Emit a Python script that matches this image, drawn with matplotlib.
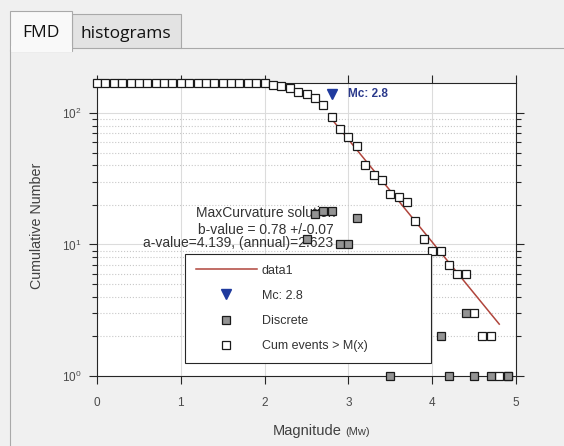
import matplotlib
matplotlib.use("Agg")
import matplotlib.pyplot as plt
from matplotlib.patches import Rectangle
from matplotlib.lines import Line2D
from matplotlib.ticker import LogLocator, NullFormatter

plt.rcParams['font.family'] = ['Liberation Sans', 'DejaVu Sans']

# cumulative number of events with magnitude >= M
cum_mag = [0.0, 0.1, 0.2, 0.3, 0.4, 0.5, 0.6, 0.7, 0.8, 0.9,
           1.0, 1.1, 1.2, 1.3, 1.4, 1.5, 1.6, 1.7, 1.8, 1.9,
           2.0, 2.1, 2.2, 2.3, 2.4, 2.5, 2.6, 2.7, 2.8, 2.9,
           3.0, 3.1, 3.2, 3.3, 3.4, 3.5, 3.6, 3.7, 3.8, 3.9,
           4.0, 4.1, 4.2, 4.3, 4.4, 4.5, 4.6, 4.7, 4.8, 4.9]
cum_num = [169, 169, 169, 169, 169, 169, 169, 169, 169, 169,
           169, 169, 169, 169, 169, 169, 169, 169, 169, 169,
           169, 163, 160, 154, 145, 139, 130, 114, 93, 75,
           66, 56, 40, 34, 31, 24, 23, 21, 15, 11,
           9, 9, 7, 6, 6, 3, 2, 2, 1, 1]

# events per magnitude bin (non zero bins only)
disc_mag = [2.0, 2.1, 2.2, 2.3, 2.4, 2.5, 2.6, 2.7, 2.8, 2.9, 3.0, 3.1, 3.2,
            3.3, 3.4, 3.5, 3.6, 3.7, 3.8, 3.9, 4.1, 4.2, 4.4, 4.5, 4.7, 4.9]
disc_num = [6, 3, 6, 7, 6, 11, 17, 18, 18, 10, 10, 16, 6,
            3, 7, 1, 2, 6, 4, 2, 2, 1, 3, 1, 1, 1]

# Gutenberg-Richter fit line (data1)
fit_mag = [2.8, 4.8]
fit_num = [90, 2.48]

mc = 2.8
mc_num = 139
b_value = 0.78
b_err = 0.07
a_value = 4.139
a_annual = 2.623

W, H = 564, 446
fig = plt.figure(figsize=(W / 100, H / 100), dpi=100, facecolor='#f0f0f0')


def box(x, y, w, h, **kw):
    # pixel box (top-left origin) to figure fraction
    r = Rectangle((x / W, 1 - (y + h) / H), w / W, h / H,
                  transform=fig.transFigure, **kw)
    fig.add_artist(r)


# tab header
box(72, 14, 109, 34, facecolor='#e3e3e3', edgecolor='#a9a9a9', lw=0.8)
box(10, 11, 62, 40, facecolor='#f9f9f9', edgecolor='#a9a9a9', lw=0.8)
fig.add_artist(Line2D([181 / W, 1], [1 - 48 / H, 1 - 48 / H],
                      transform=fig.transFigure, color='#a9a9a9', lw=0.8))
fig.add_artist(Line2D([10 / W, 10 / W], [0, 1 - 50 / H],
                      transform=fig.transFigure, color='#a9a9a9', lw=0.8))
box(10.5, 46, 61, 6, facecolor='#f9f9f9', edgecolor='none')
fig.text(41 / W, 1 - 33 / H, 'FMD', ha='center', va='center', fontsize=12.5,
         family=['Open Sans', 'DejaVu Sans'], color='#111111')
fig.text(126 / W, 1 - 34 / H, 'histograms', ha='center', va='center', fontsize=12.5,
         family=['Open Sans', 'DejaVu Sans'], color='#111111')

ax = fig.add_axes([97 / W, 1 - 376 / H, 419 / W, 293 / H])
ax.set_facecolor('white')

ax.semilogy(fit_mag, fit_num, color='#b0453c', lw=1.1, label='data1', zorder=3)
mc_h, = ax.semilogy([mc], [mc_num], 'v', color='#1f3a9e', ms=7, ls='none',
                    label='Mc: %.1f' % mc, zorder=4, clip_on=False)
cum_h, = ax.semilogy(cum_mag, cum_num, 's', mfc='white', mec='#1a1a1a', mew=0.9,
                     ms=5.3, ls='none', label='Cum events > M(x)', zorder=4, clip_on=False)
disc_h, = ax.semilogy(disc_mag, disc_num, 's', mfc='#939393', mec='#1a1a1a', mew=0.9,
                      ms=5.3, ls='none', label='Discrete', zorder=5, clip_on=False)

ax.set_xlim(0, 5)
ax.set_ylim(1, 169)
ax.set_xticks([0, 1, 2, 3, 4, 5])
ax.yaxis.set_major_locator(LogLocator(base=10))
ax.yaxis.set_minor_locator(LogLocator(base=10, subs=[2, 3, 4, 5, 6, 7, 8, 9]))
ax.yaxis.set_minor_formatter(NullFormatter())

ax.grid(True, which='major', color='#dcdcdc', lw=0.8, ls='-')
ax.grid(True, which='minor', axis='y', color='#c8c8c8', lw=0.8, ls=':')
ax.set_axisbelow(True)

ax.tick_params(which='both', direction='out', top=True, right=True,
               colors='#262626', labelcolor='#4a4a4a', labelsize=8.5)
ax.tick_params(which='major', length=6, width=0.8)
ax.tick_params(which='minor', length=3.5, width=0.8)
ax.tick_params(axis='x', pad=9)
ax.tick_params(axis='y', pad=5)
for s in ax.spines.values():
    s.set_color('#262626')
    s.set_linewidth(0.8)

ax.text(0.585, -0.201, 'Magnitude', transform=ax.transAxes, ha='right',
        va='baseline', fontsize=10.5, color='#404040')
ax.text(0.592, -0.201, '(Mw)', transform=ax.transAxes, ha='left',
        va='baseline', fontsize=8, color='#404040')
ax.text(-0.143, 0.512, 'Cumulative Number', transform=ax.transAxes, rotation=90,
        ha='center', va='center', fontsize=10.3, color='#404040')

ax.text(2.017, 17.4, 'MaxCurvature solution', ha='center', va='center',
        fontsize=10, color='#333333', zorder=2)
ax.text(2.017, 12.9, 'b-value = %.2f +/-%.2f' % (b_value, b_err), ha='center',
        va='center', fontsize=10, color='#333333', zorder=2)
ax.text(1.68, 10.3, 'a-value=%.3f, (annual)=%.3f' % (a_value, a_annual), ha='center',
        va='center', fontsize=10, color='#333333', zorder=2)
ax.text(3.0, mc_num, 'Mc: %.1f' % mc, ha='left', va='center', fontsize=8.5,
        fontweight='bold', color='#2b3a8c', zorder=4)

fit_h = ax.get_lines()[0]
leg = ax.legend([fit_h, mc_h, disc_h, cum_h],
                ['data1', 'Mc: %.1f' % mc, 'Discrete', 'Cum events > M(x)'],
                loc='upper left', bbox_to_anchor=(0.210, 0.0512, 0.587, 0.365),
                mode='expand', borderaxespad=0, borderpad=0.85, labelspacing=1.05,
                handlelength=4.9, handletextpad=0.4, numpoints=1, fontsize=9,
                fancybox=False, framealpha=1, edgecolor='#262626')
leg.get_frame().set_linewidth(0.8)
for t in leg.get_texts():
    t.set_color('#333333')
leg.set_zorder(10)

fig.savefig('out.png', dpi=100, facecolor=fig.get_facecolor())
